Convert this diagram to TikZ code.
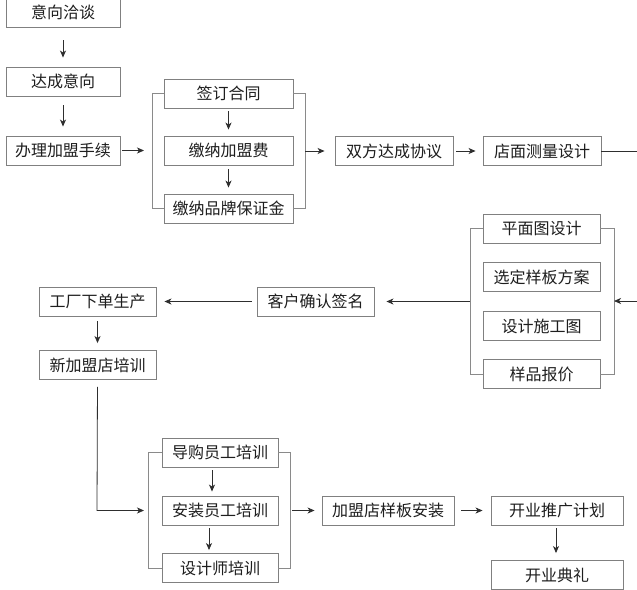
\documentclass[tikz,border=0pt]{standalone}
\usepackage{fontspec}
\newfontfamily\cjk{Noto Sans CJK SC}
\usetikzlibrary{arrows.meta}
\definecolor{boxline}{HTML}{808080}
\definecolor{txt}{HTML}{1E1E1E}
\definecolor{arrline}{HTML}{2E2E2E}
\definecolor{brkline}{HTML}{8A8A8A}
\begin{document}
\begin{tikzpicture}[x=1pt,y=-1pt,
  box/.style={draw=boxline, line width=0.9pt, minimum height=29pt, inner sep=0pt,
    font=\cjk\fontsize{16}{16}\selectfont, text=txt},
  arr/.style={draw=arrline, line width=0.8pt, -{Stealth[length=7pt,width=6pt,inset=2pt]}},
  brk/.style={draw=brkline, line width=0.9pt}]
\useasboundingbox[fill=white] (0,0) rectangle (637,589);

% left column
\node[box, minimum width=114pt] (yx) at (63,12.5) {意向洽谈};
\node[box, minimum width=114pt] (dc) at (63,81.5) {达成意向};
\node[box, minimum width=114pt] (bl) at (63,150.5) {办理加盟手续};

% top group
\node[box, minimum width=129pt] (qd) at (228.5,93.5) {签订合同};
\node[box, minimum width=129pt] (jn) at (228.5,150.5) {缴纳加盟费};
\node[box, minimum width=129pt] (bz) at (228.5,208.5) {缴纳品牌保证金};

\node[box, minimum width=118pt] (sf) at (394,151) {双方达成协议};
\node[box, minimum width=118pt] (dm) at (542,151) {店面测量设计};

% right group
\node[box, minimum width=117pt] (pm) at (541.5,228.5) {平面图设计};
\node[box, minimum width=117pt] (xd) at (541.5,277) {选定样板方案};
\node[box, minimum width=117pt] (sj) at (541.5,326) {设计施工图};
\node[box, minimum width=117pt] (yp) at (541.5,374) {样品报价};

\node[box, minimum width=117pt] (kh) at (315.5,301.5) {客户确认签名};
\node[box, minimum width=117pt] (gc) at (97.5,301.5) {工厂下单生产};
\node[box, minimum width=117pt] (xj) at (97.5,365) {新加盟店培训};

% bottom group
\node[box, minimum width=116pt] (dg) at (220,452.5) {导购员工培训};
\node[box, minimum width=116pt] (az) at (220,510.5) {安装员工培训};
\node[box, minimum width=116pt] (sjs) at (220,568) {设计师培训};

\node[box, minimum width=132pt] (jm) at (388,510.5) {加盟店样板安装};
\node[box, minimum width=132pt] (ky) at (557,510.5) {开业推广计划};
\node[box, minimum width=132pt] (kd) at (557,575) {开业典礼};

% bracket coordinates
\coordinate (L1) at (152,93.5);
\coordinate (R1) at (305,93.5);
\coordinate (L2) at (470,228.5);
\coordinate (R2) at (614,228.5);
\coordinate (L3) at (148,452.5);
\coordinate (R3) at (290,452.5);
\coordinate (out1) at (660,151);
\coordinate (out2) at (660,301);
\coordinate (turn) at (97,510.5);

% brackets
\draw[brk] (qd.west) -- (L1) |- (bz.west);
\draw[brk] (qd.east) -- (R1) |- (bz.east);
\draw[brk] (pm.west) -- (L2) |- (yp.west);
\draw[brk] (pm.east) -- (R2) |- (yp.east);
\draw[brk] (dg.west) -- (L3) |- (sjs.west);
\draw[brk] (dg.east) -- (R3) |- (sjs.east);

% arrows
\draw[arr, shorten <=13pt, shorten >=9pt] (yx.south) -- (dc.north);
\draw[arr, shorten <=9pt, shorten >=9pt] (dc.south) -- (bl.north);
\draw[arr, shorten <=2pt, shorten >=8pt] (bl.east) -- (L1 |- bl.east);
\draw[arr, shorten <=3pt, shorten >=6pt] (qd.south) -- (jn.north);
\draw[arr, shorten <=4pt, shorten >=6pt] (jn.south) -- (bz.north);
\draw[arr, shorten >=10pt] (R1 |- sf.west) -- (sf.west);
\draw[arr, shorten <=3pt, shorten >=7pt] (sf.east) -- (dm.west);
\draw[arr] (dm.east) -- (out1) -- (out2) -- (R2 |- out2);
\draw[arr, shorten >=12pt] (L2 |- kh.east) -- (kh.east);
\draw[arr, shorten <=5pt, shorten >=8pt] (kh.west) -- (gc.east);
\draw[arr, shorten <=5pt, shorten >=7pt] (gc.south) -- (xj.north);
\draw[arr, shorten <=7pt, shorten >=4pt] (xj.south) -- (turn) -- (L3 |- turn);
\draw[arr, shorten <=3pt, shorten >=4pt] ([xshift=-8pt]dg.south) -- ([xshift=-8pt]az.north);
\draw[arr, shorten <=3pt, shorten >=3pt] ([xshift=-11pt]az.south) -- ([xshift=-11pt]sjs.north);
\draw[arr, shorten <=2pt, shorten >=7pt] (R3 |- jm.west) -- (jm.west);
\draw[arr, shorten <=7pt, shorten >=8pt] (jm.east) -- (ky.west);
\draw[arr, shorten <=3pt, shorten >=7pt] ([xshift=-1pt]ky.south) -- ([xshift=-1pt]kd.north);
\end{tikzpicture}
\end{document}
